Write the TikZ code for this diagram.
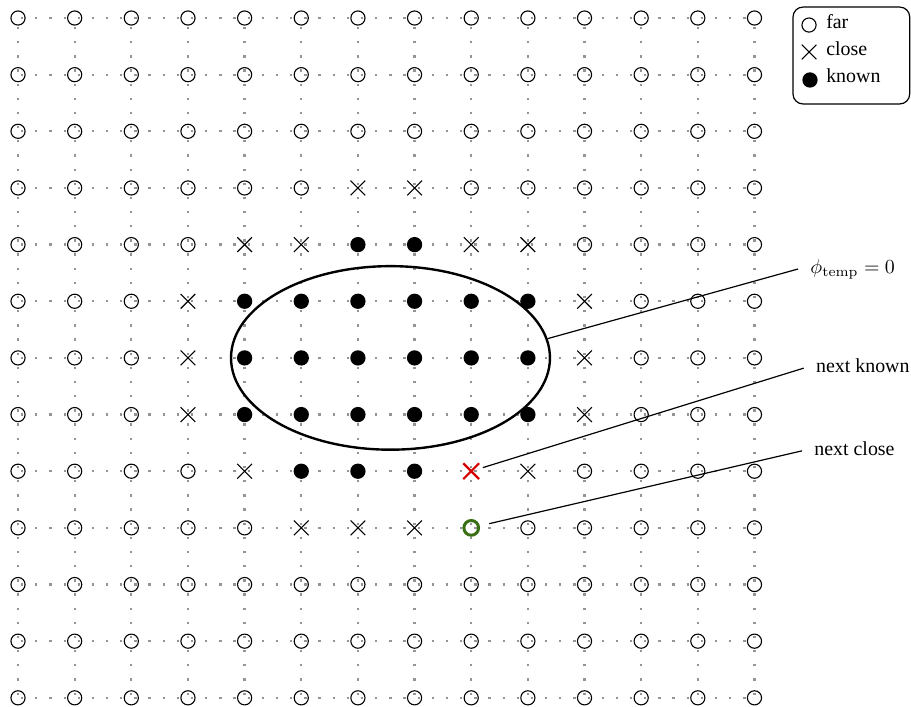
\documentclass[tikz,border=0pt]{standalone}
\usepackage[no-math]{fontspec}
\setmainfont{Liberation Serif}
\usetikzlibrary{shapes.misc,shapes.geometric}
\definecolor{mred}{RGB}{215,0,0}
\definecolor{mgreen}{RGB}{56,110,20}
\tikzset{
  gridline/.style={black!42, line width=1.15pt, dash pattern=on 1.15pt off 5.963pt, dash phase=5.6pt},
  mo/.style={circle, draw, minimum size=0.25cm, inner sep=0pt, line width=0.55pt},
  mx/.style={cross out, draw, minimum size=0.24cm, inner sep=0pt, line width=0.55pt},
  mk/.style={circle, fill, minimum size=0.27cm, inner sep=0pt},
  mr/.style={cross out, draw=mred, minimum size=0.24cm, inner sep=0pt, line width=1.1pt},
  mg/.style={circle, draw=mgreen, minimum size=0.26cm, inner sep=0pt, line width=1.5pt},
  lbl/.style={inner xsep=6pt, inner ysep=2pt, font=\normalsize},
  leader/.style={line width=0.6pt},
  legbox/.style={draw, rounded corners=5pt, line width=0.6pt, minimum width=2.06cm, minimum height=1.71cm},
  legtxt/.style={anchor=base west, inner sep=0pt}
}
\begin{document}
\begin{tikzpicture}
\useasboundingbox (-0.318,0.318) rectangle (15.763,-12.145);
% dotted grid
\draw[gridline] (0,-12) grid (13,0);
% markers
\foreach \r/\l in {
  0/{o,o,o,o,o,o,o,o,o,o,o,o,o,o},
  1/{o,o,o,o,o,o,o,o,o,o,o,o,o,o},
  2/{o,o,o,o,o,o,o,o,o,o,o,o,o,o},
  3/{o,o,o,o,o,o,x,x,o,o,o,o,o,o},
  4/{o,o,o,o,x,x,k,k,x,x,o,o,o,o},
  5/{o,o,o,x,k,k,k,k,k,k,x,o,o,o},
  6/{o,o,o,x,k,k,k,k,k,k,x,o,o,o},
  7/{o,o,o,x,k,k,k,k,k,k,x,o,o,o},
  8/{o,o,o,o,x,k,k,k,r,x,o,o,o,o},
  9/{o,o,o,o,o,x,x,x,g,o,o,o,o,o},
  10/{o,o,o,o,o,o,o,o,o,o,o,o,o,o},
  11/{o,o,o,o,o,o,o,o,o,o,o,o,o,o},
  12/{o,o,o,o,o,o,o,o,o,o,o,o,o,o}}{
  \foreach \t [count=\c from 0] in \l {
    \node[m\t] (p-\r-\c) at (\c,-\r) {};
  }
}
% ellipse around temporary zero level
\node[ellipse, draw, line width=1.2pt, minimum width=5.63cm, minimum height=3.24cm, inner sep=0pt] (ell) at (6.575,-6.0) {};
% labels
\node[lbl, anchor=mid west] (lphi) at (13.77,-4.43) {$\phi_{\mathrm{temp}} = 0$};
\node[lbl, anchor=mid west] (lknown) at (13.87,-6.18) {next known};
\node[lbl, anchor=mid west] (lclose) at (13.84,-7.64) {next close};
\draw[leader] (ell.7) -- (lphi.mid west);
\draw[leader, shorten <=0.07cm] (p-8-8) -- (lknown.mid west);
\draw[leader, shorten <=0.17cm] (p-9-8) -- (lclose.mid west);
% legend
\node[legbox] (leg) at (14.71,-0.662) {};
\node[mo] (lgo) at (13.963,-0.124) {};
\node[mx] (lgx) at (13.963,-0.60) {};
\node[mk] (lgk) at (13.98,-1.094) {};
\node[legtxt] (tfar) at (14.26,-0.19) {far};
\node[legtxt] (tclose) at (14.26,-0.655) {close};
\node[legtxt] (tknown) at (14.26,-1.14) {known};
\end{tikzpicture}
\end{document}
